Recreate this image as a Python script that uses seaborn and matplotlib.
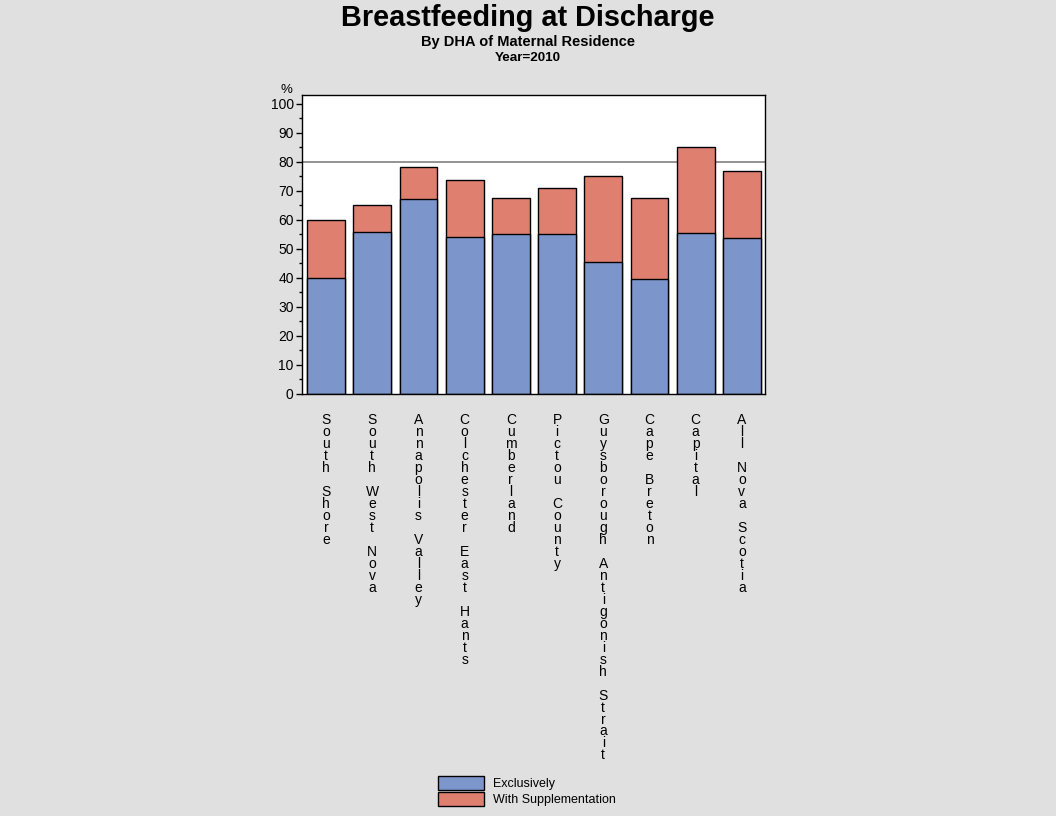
import numpy as np
import pandas as pd
import matplotlib
matplotlib.use('Agg')
import matplotlib.pyplot as plt
from matplotlib.patches import Patch
import seaborn as sns

# Data (Year=2010)
DHA_NAMES = ['South Shore', 'South West Nova', 'Annapolis Valley',
             'Colchester East Hants', 'Cumberland', 'Pictou County',
             'Guysborough Antigonish Strait', 'Cape Breton', 'Capital',
             'All Nova Scotia']
EXCLUSIVE = [40.0, 55.8, 67.2, 54.1, 55.2, 55.2, 45.5, 39.6, 55.5, 53.8]
TOTAL = [60.0, 65.2, 78.3, 73.6, 67.6, 71.0, 75.2, 67.6, 85.2, 76.9]
TARGET = 80

BLUE = '#7C96CC'
RED = '#DF7F6F'
BG = '#E0E0E0'

df = pd.DataFrame({'dha': DHA_NAMES, 'exclusive': EXCLUSIVE, 'total': TOTAL})

sns.set_theme(style='white')
plt.rcParams['font.family'] = ['Liberation Sans', 'DejaVu Sans']
plt.rcParams['text.color'] = 'black'
plt.rcParams['xtick.color'] = 'black'
plt.rcParams['ytick.color'] = 'black'
plt.rcParams['axes.labelcolor'] = 'black'

fig = plt.figure(figsize=(10.56, 8.16), dpi=100, facecolor=BG)
ax = fig.add_axes([0.286, 0.5172, 0.4384, 0.3664])
ax.set_facecolor('white')

# total height drawn first (red), exclusive drawn over it (blue)
sns.barplot(data=df, x='dha', y='total', order=DHA_NAMES, color=RED,
            saturation=1, width=0.82, edgecolor='black', linewidth=1, ax=ax)
sns.barplot(data=df, x='dha', y='exclusive', order=DHA_NAMES, color=BLUE,
            saturation=1, width=0.82, edgecolor='black', linewidth=1, ax=ax)

ax.axhline(TARGET, color='#808080', linewidth=1.2, zorder=0.5)

ax.set_xlim(-0.52, len(DHA_NAMES) - 0.5)
ax.set_ylim(0, 103)
ax.set_yticks(np.arange(0, 101, 10))
ax.set_yticks(np.arange(5, 100, 10), minor=True)
ax.tick_params(axis='y', which='major', direction='out', length=4, width=1,
               color='black', labelsize=10, pad=2, left=True)
ax.tick_params(axis='y', which='minor', direction='out', length=2.5, width=1,
               color='black', left=True)

# vertical, letter-stacked category labels
stacked = ['\n'.join(ch if ch != ' ' else '' for ch in name) for name in DHA_NAMES]
ax.set_xticks(range(len(DHA_NAMES)))
ax.set_xticklabels(stacked, fontsize=10, linespacing=0.815, va='top')
ax.tick_params(axis='x', length=0, pad=14)

ax.set_xlabel('')
ax.set_ylabel('')
for sp in ax.spines.values():
    sp.set_visible(True)
    sp.set_color('black')
    sp.set_linewidth(1)

ax.text(-0.033, 0.997, '%', transform=ax.transAxes, fontsize=9.5,
        ha='center', va='bottom')

fig.text(0.5, 0.978, 'Breastfeeding at Discharge', ha='center', va='center',
         fontsize=20.8, fontweight='bold')
fig.text(0.5, 0.949, 'By DHA of Maternal Residence', ha='center', va='center',
         fontsize=10.5, fontweight='bold')
fig.text(0.5, 0.929, 'Year=2010', ha='center', va='center',
         fontsize=9.7, fontweight='bold')

handles = [Patch(facecolor=BLUE, edgecolor='black', label='Exclusively'),
           Patch(facecolor=RED, edgecolor='black', label='With Supplementation')]
fig.legend(handles=handles, loc='lower left', bbox_to_anchor=(0.405, 0.0),
           frameon=False, fontsize=9, handlelength=3.7, handleheight=1.3,
           labelspacing=0.15, handletextpad=0.7, borderpad=0.3)

fig.savefig('out.png', dpi=100, facecolor=BG)
